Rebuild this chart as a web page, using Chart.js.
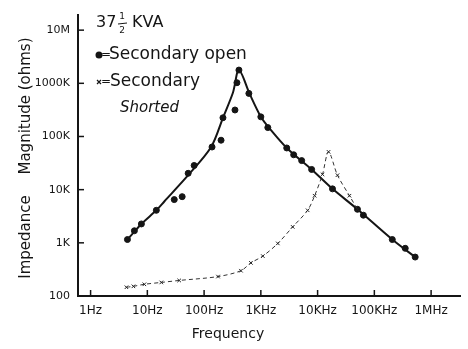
<!DOCTYPE html>
<html>
<head>
<meta charset="utf-8">
<script src="https://cdn.jsdelivr.net/npm/chart.js@4.4.1/dist/chart.umd.min.js"></script>
<style>
  html, body { margin: 0; padding: 0; background: #fff; }
  #wrap { width: 468px; height: 349px; }
</style>
</head>
<body>
<div id="wrap"><canvas id="chart"></canvas></div>
<script>
// axis ticks
const xTicks = [1, 10, 100, 1e3, 1e4, 1e5, 1e6];
const xTickLabels = ['1Hz', '10Hz', '100Hz', '1KHz', '10KHz', '100KHz', '1MHz'];
const yTicks = [100, 1e3, 1e4, 1e5, 1e6, 1e7];
const yTickLabels = ['100', '1K', '10K', '100K', '1000K', '10M'];

// secondary open - measured dots (Hz, ohms)
const openFreq = [4.46, 5.91, 7.85, 14.4, 29.8, 41.1, 52.4, 66.8, 138, 199, 215, 350, 379, 411,
  615, 1000, 1327, 2860, 3790, 5240, 7850, 18300, 50400, 64100, 207000, 350000, 524000];
const openOhms = [1154, 1687, 2265, 4090, 6500, 7380, 20300, 28500, 63400, 85100, 225000, 315000, 1026000, 1774000,
  646000, 234000, 147000, 60800, 45300, 35200, 24000, 10350, 4270, 3310, 1154, 789, 540];

// hand drawn curve through the open points
const fitFreq = [4.46, 7.85, 14.4, 19.9, 52.4, 133, 215, 323, 411, 641, 1000, 1380, 2860, 7850, 18300, 50400, 207000, 524000];
const fitOhms = [1154, 2265, 4090, 5990, 18700, 63400, 225000, 673000, 1774000, 618000, 234000, 147000, 60800, 24000, 10350, 4270, 1154, 540];

// secondary shorted
const shortFreq = [4.28, 5.68, 8.86, 17.6, 36.4, 176, 446, 668, 1084, 1990, 3640, 6680, 8860, 12200, 15600, 22400, 36400, 50400];
const shortOhms = [146, 152, 166, 180, 196, 232, 299, 420, 563, 975, 1995, 4090, 7690, 19400, 51400, 18700, 7690, 4270];

const toXY = (xs, ys) => xs.map((x, i) => ({ x: x, y: ys[i] }));
const ink = '#151515';

const sketchText = {
  id: 'sketchText',
  afterDraw(chart) {
    const { ctx, chartArea, scales } = chart;
    ctx.save();
    ctx.strokeStyle = ink;
    ctx.fillStyle = ink;
    ctx.lineWidth = 1.5;
    // little tick marks inside the axes
    yTicks.forEach(v => {
      const y = scales.y.getPixelForValue(v);
      ctx.beginPath(); ctx.moveTo(chartArea.left, y); ctx.lineTo(chartArea.left + 6, y); ctx.stroke();
    });
    xTicks.forEach(v => {
      const x = scales.x.getPixelForValue(v);
      ctx.beginPath(); ctx.moveTo(x, chartArea.bottom); ctx.lineTo(x, chartArea.bottom - 6); ctx.stroke();
    });

    // axis titles
    ctx.textAlign = 'center';
    ctx.textBaseline = 'middle';
    ctx.font = '14px "DejaVu Sans"';
    ctx.fillText('Frequency', 228, 334);
    ctx.save();
    ctx.translate(26, 0);
    ctx.rotate(-Math.PI / 2);
    ctx.font = '15px "DejaVu Sans"';
    ctx.fillText('Impedance', -237, 0);
    ctx.fillText('Magnitude (ohms)', -106, 0);
    ctx.restore();

    // title 37 1/2 KVA
    ctx.textAlign = 'left';
    ctx.font = '16px "DejaVu Sans"';
    ctx.fillText('37', 96, 23);
    ctx.fillText('KVA', 132, 23);
    ctx.textAlign = 'center';
    ctx.font = '9px "DejaVu Sans"';
    ctx.fillText('1', 122, 17);
    ctx.fillText('2', 122, 31);
    ctx.lineWidth = 1;
    ctx.beginPath(); ctx.moveTo(118, 24); ctx.lineTo(127, 23); ctx.stroke();

    // key
    ctx.beginPath(); ctx.arc(99, 55, 3.5, 0, Math.PI * 2); ctx.fill();
    ctx.lineWidth = 1.2;
    ctx.beginPath();
    ctx.moveTo(97, 80); ctx.lineTo(101, 84); ctx.moveTo(101, 80); ctx.lineTo(97, 84);
    ctx.stroke();
    ctx.textAlign = 'left';
    ctx.font = '12px "DejaVu Sans"';
    ctx.fillText('=', 101, 55);
    ctx.fillText('=', 101, 82);
    ctx.font = '17px "DejaVu Sans"';
    ctx.fillText('Secondary open', 109, 55);
    ctx.fillText('Secondary', 110, 82);
    ctx.font = 'italic 15px "DejaVu Sans"';
    ctx.fillText('Shorted', 120, 108);
    ctx.restore();
  }
};

new Chart(document.getElementById('chart'), {
  data: {
    datasets: [
      {
        type: 'line',
        label: 'Secondary shorted',
        data: toXY(shortFreq, shortOhms),
        borderColor: '#333',
        borderWidth: 1,
        borderDash: [4, 3],
        tension: 0.3,
        pointStyle: 'crossRot',
        pointRadius: 2.5,
        pointBorderWidth: 1,
        pointBorderColor: '#222',
        fill: false
      },
      {
        type: 'line',
        label: 'curve',
        data: toXY(fitFreq, fitOhms),
        borderColor: ink,
        borderWidth: 2,
        tension: 0.3,
        pointRadius: 0,
        fill: false
      },
      {
        type: 'scatter',
        label: 'Secondary open',
        data: toXY(openFreq, openOhms),
        pointRadius: 3,
        pointBackgroundColor: ink,
        pointBorderColor: ink
      }
    ]
  },
  options: {
    responsive: true,
    maintainAspectRatio: false,
    animation: false,
    layout: { padding: { top: 7, right: 8, left: 0, bottom: 0 } },
    plugins: { legend: { display: false }, tooltip: { enabled: false } },
    scales: {
      x: {
        type: 'logarithmic',
        min: 0.641,
        max: 3.23e6,
        afterBuildTicks: s => { s.ticks = xTicks.map(v => ({ value: v })); },
        afterFit: s => { s.height = 53; },
        grid: { display: false, drawTicks: false },
        border: { display: true, color: ink, width: 2 },
        ticks: {
          autoSkip: false,
          maxRotation: 0,
          padding: 8,
          color: ink,
          font: { family: 'DejaVu Sans', size: 12 },
          callback: (v, i) => xTickLabels[i]
        }
      },
      y: {
        type: 'logarithmic',
        min: 100,
        max: 1.96e7,
        afterBuildTicks: s => { s.ticks = yTicks.map(v => ({ value: v })); },
        afterFit: s => { s.width = 78; },
        grid: { display: false, drawTicks: false },
        border: { display: true, color: ink, width: 2 },
        ticks: {
          autoSkip: false,
          padding: 8,
          color: ink,
          font: { family: 'DejaVu Sans', size: 11 },
          callback: (v, i) => yTickLabels[i]
        }
      }
    }
  },
  plugins: [sketchText]
});
</script>
</body>
</html>
